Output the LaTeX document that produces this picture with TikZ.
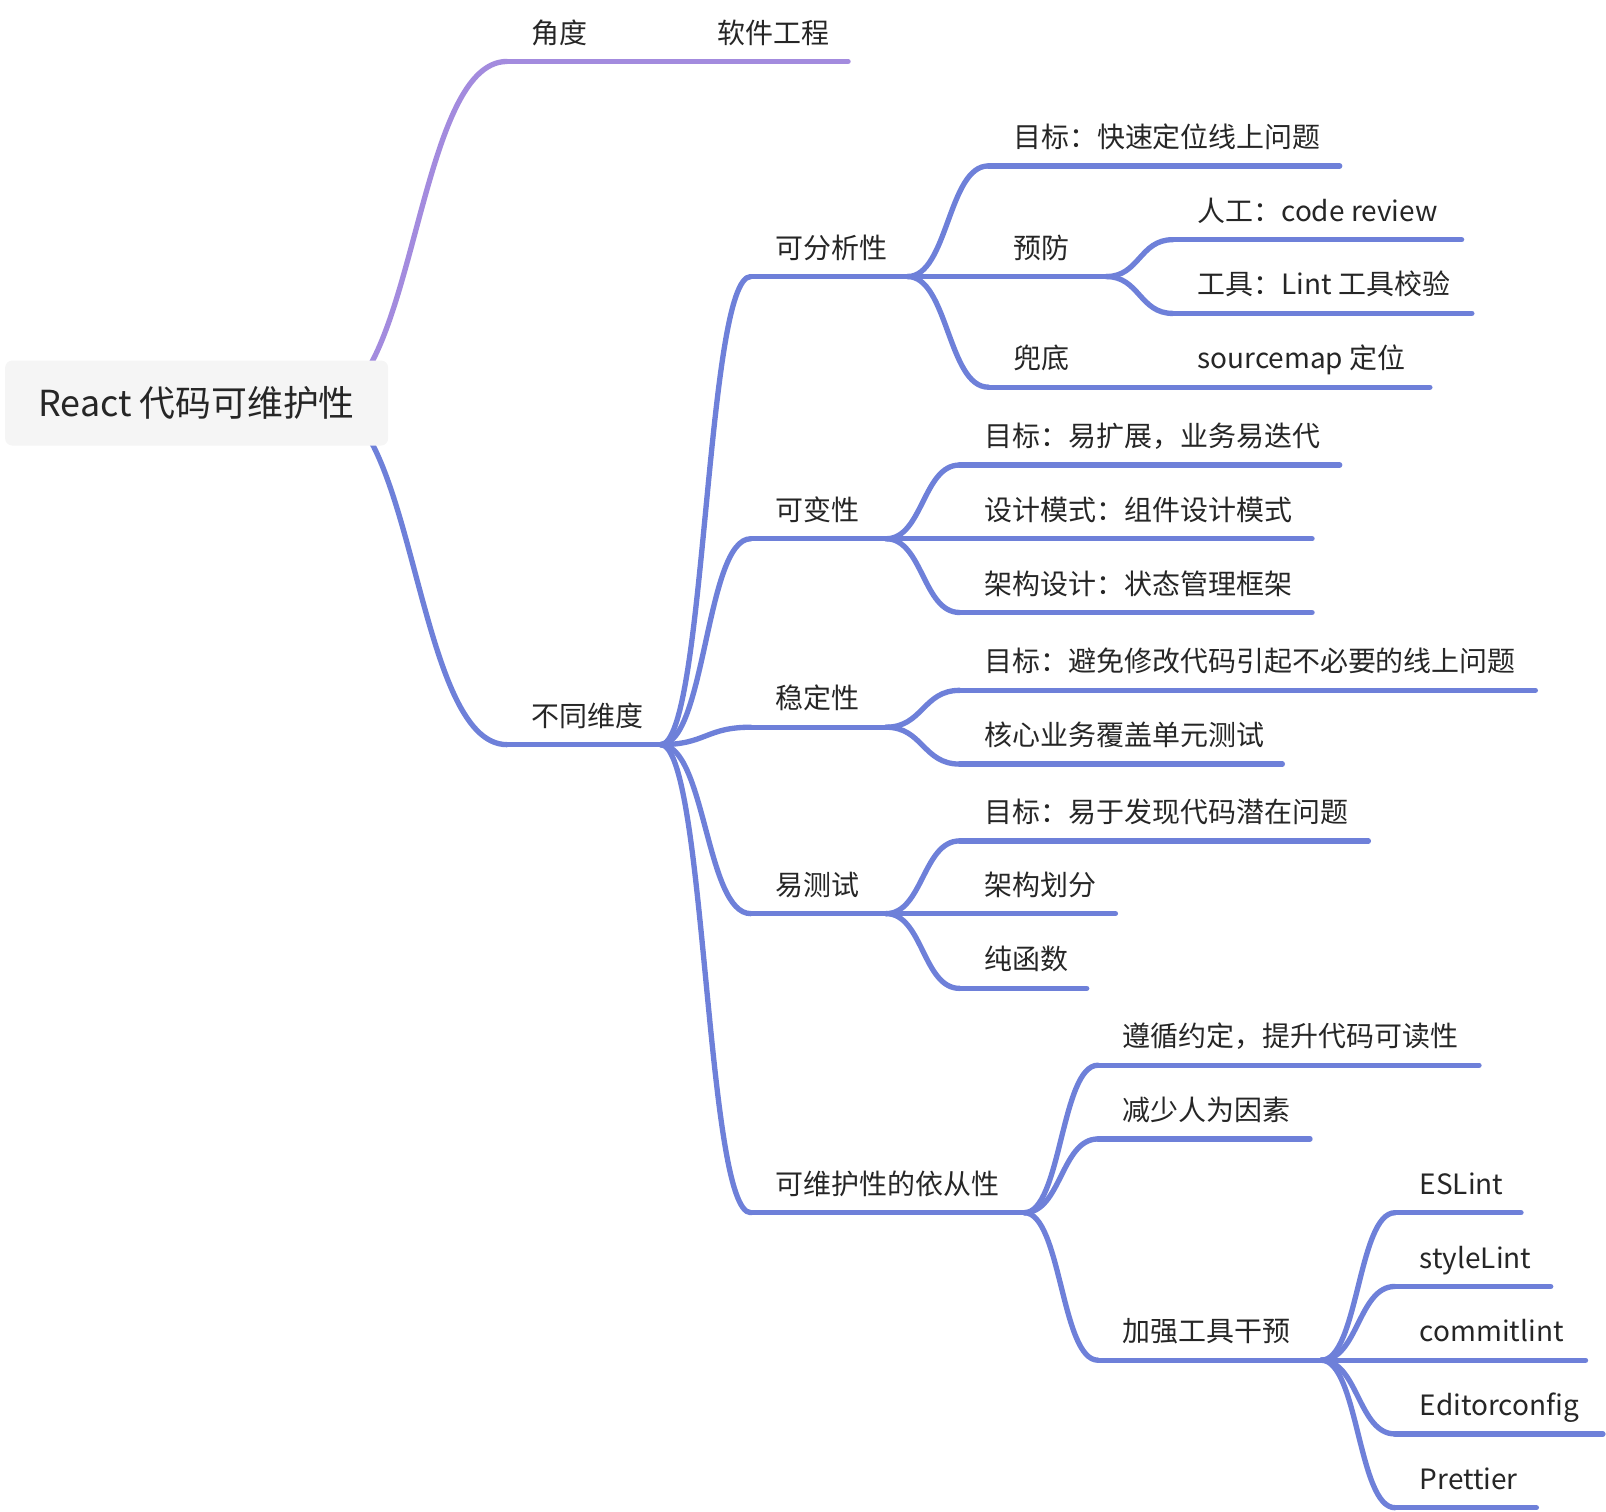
\documentclass[tikz,border=0pt]{standalone}
\usepackage{fontspec}
\setmainfont{Noto Sans CJK SC}
\usetikzlibrary{calc}

\definecolor{purp}{RGB}{163,139,222}
\definecolor{blu}{RGB}{110,128,217}
\definecolor{ink}{RGB}{38,38,38}
\definecolor{rootfill}{RGB}{245,245,245}

\tikzset{
  br/.style={line width=5.2pt,line cap=round},
  lbl/.style={inner sep=0pt,text=ink,font=\fontsize{27.3}{32}\selectfont},
  rootbox/.style={fill=rootfill,rounded corners=7pt,minimum width=374pt,minimum height=83pt,
    inner sep=0pt,text=ink,font=\fontsize{35}{40}\selectfont}
}

% underline topic: name, start x, end x, y, text
\newcommand\topic[6][blu]{%
  \coordinate (#2-s) at (#3,#5);
  \coordinate (#2-e) at (#4,#5);
  \draw[br,#1] (#2-s) -- (#2-e);
  \node[lbl,anchor=base west] (#2) at ($(#2-s)+(24,-18)$) {#6};}
% s-shaped branch between two named points
\newcommand\conn[3][blu]{%
  \draw[br,#1] let \p1=(#2), \p2=(#3) in
    (#2) .. controls ({(\x1+\x2)/2},\y1) and ({(\x1+\x2)/2},\y2) .. (#3);}

\begin{document}
\begin{tikzpicture}[x=1pt,y=-1pt]
\useasboundingbox (0,0) rectangle (1568,1476);
\coordinate (root-b) at (316,393);

% 角度
\topic[purp]{jd}{495}{598}{60}{角度}
\topic[purp]{rj}{676}{828}{60}{软件工程}
\conn[purp]{root-b}{jd-s}
\conn[purp]{jd-e}{rj-s}

% 不同维度
\topic{bt}{495}{655}{727}{不同维度}
\coordinate (bt-b) at (645,727);
\conn{root-b}{bt-s}

\topic{fx}{733}{886}{270}{可分析性}
\topic{kb}{733}{865}{526}{可变性}
\topic{wd}{733}{865}{710}{稳定性}
\topic{cs}{733}{865}{892}{易测试}
\topic{yc}{733}{1000}{1184}{可维护性的依从性}
\foreach \c in {fx,kb,wd,cs,yc} {\conn{bt-b}{\c-s}}

% 可分析性
\topic{fx1}{965}{1308}{162}{目标：快速定位线上问题}
\topic{fx2}{965}{1080}{270}{预防}
\topic{fx3}{965}{1080}{378}{兜底}
\foreach \c in {fx1,fx2,fx3} {\conn{fx-e}{\c-s}}
\topic{fx21}{1145}{1427}{234}{人工：code review}
\topic{fx22}{1145}{1437}{306}{工具：Lint 工具校验}
\topic{fx31}{1145}{1396}{378}{sourcemap 定位}
\conn{fx2-e}{fx21-s}
\conn{fx2-e}{fx22-s}
\conn{fx3-e}{fx31-s}

% 可变性
\topic{kb1}{937}{1308}{454}{目标：易扩展，业务易迭代}
\topic{kb2}{937}{1281}{526}{设计模式：组件设计模式}
\topic{kb3}{937}{1281}{598}{架构设计：状态管理框架}
\foreach \c in {kb1,kb2,kb3} {\conn{kb-e}{\c-s}}

% 稳定性
\topic{wd1}{937}{1499}{674}{目标：避免修改代码引起不必要的线上问题}
\topic{wd2}{937}{1252}{746}{核心业务覆盖单元测试}
\foreach \c in {wd1,wd2} {\conn{wd-e}{\c-s}}

% 易测试
\topic{cs1}{937}{1336}{821}{目标：易于发现代码潜在问题}
\topic{cs2}{937}{1089}{892}{架构划分}
\topic{cs3}{937}{1061}{965}{纯函数}
\foreach \c in {cs1,cs2,cs3} {\conn{cs-e}{\c-s}}

% 可维护性的依从性
\topic{yc1}{1072}{1444}{1040}{遵循约定，提升代码可读性}
\topic{yc2}{1072}{1279}{1112}{减少人为因素}
\topic{yc3}{1072}{1290}{1328}{加强工具干预}
\foreach \c in {yc1,yc2,yc3} {\conn{yc-e}{\c-s}}
\topic{t1}{1362}{1485}{1184}{ESLint}
\topic{t2}{1362}{1514}{1256}{styleLint}
\topic{t3}{1362}{1548}{1328}{commitlint}
\topic{t4}{1362}{1565}{1400}{Editorconfig}
\topic{t5}{1362}{1500}{1472}{Prettier}
\foreach \c in {t1,t2,t3,t4,t5} {\conn{yc3-e}{\c-s}}

\node[rootbox] (root) at (192,393.5) {React 代码可维护性};
\end{tikzpicture}
\end{document}
